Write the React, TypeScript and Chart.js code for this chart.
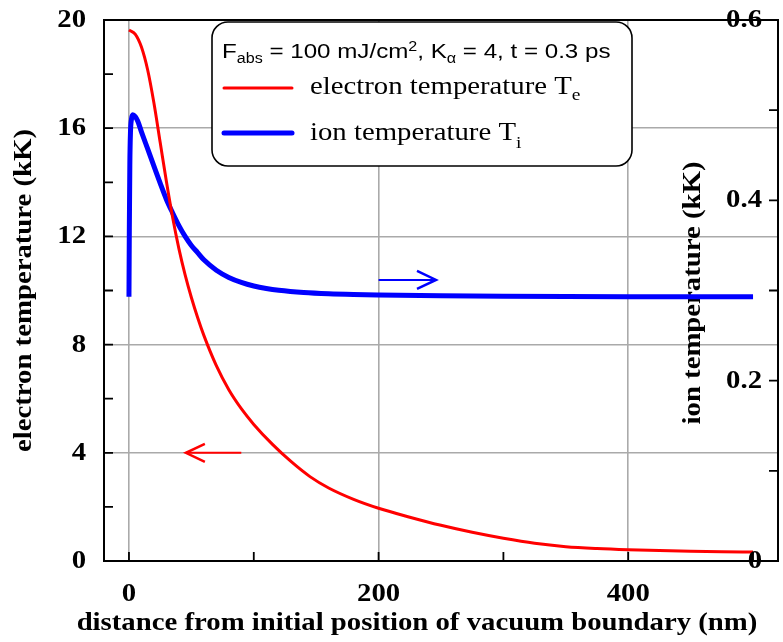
import React, { useEffect, useRef } from 'react';
import { Chart, registerables } from 'chart.js';

Chart.register(...registerables);

// ---- data ----
const distanceElectron = [0, 5, 10, 15, 20, 25, 30, 35, 40, 45, 50, 55, 60, 70, 80, 90, 100, 115, 130, 145, 160, 180, 200, 225, 250, 275, 300, 325, 350, 375, 400, 425, 450, 475, 500];
const electronTemp = [19.63, 19.48, 19.0, 18.15, 16.93, 15.48, 14.03, 12.7, 11.55, 10.58, 9.74, 9.0, 8.34, 7.22, 6.33, 5.63, 5.05, 4.31, 3.67, 3.12, 2.7, 2.28, 1.95, 1.62, 1.32, 1.06, 0.84, 0.655, 0.53, 0.46, 0.415, 0.385, 0.363, 0.345, 0.33];

const distanceIon = [0, 0.3, 0.7, 1.2, 2, 3, 5, 7, 10, 15, 20, 25, 30, 35, 40, 45, 50, 55, 60, 70, 80, 90, 100, 110, 120, 140, 160, 180, 200, 250, 300, 400, 500];
const ionTemp = [0.293, 0.37, 0.44, 0.475, 0.49, 0.495, 0.493, 0.488, 0.476, 0.457, 0.438, 0.419, 0.401, 0.386, 0.372, 0.36, 0.35, 0.342, 0.334, 0.3225, 0.3145, 0.309, 0.305, 0.3022, 0.3002, 0.2977, 0.2963, 0.2955, 0.295, 0.2941, 0.2936, 0.2931, 0.293];

const xGridTicks = [0, 200, 400];
const xTickMarks = [0, 100, 200, 300, 400, 500];
const xTickLabels = ['0', '200', '400'];
const leftGridTicks = [4, 8, 12, 16];
const leftTickMarks = [0, 2, 4, 6, 8, 10, 12, 14, 16, 18, 20];
const leftTickLabels = ['0', '4', '8', '12', '16', '20'];
const rightTickMarks = [0, 0.1, 0.2, 0.3, 0.4, 0.5, 0.6];
const rightTickLabels = ['0', '0.2', '0.4', '0.6'];

// arrows: [x start, x end (tip), y value]
const electronArrow = [90, 45.6, 4.0];
const ionArrow = [200, 246, 0.3117];

const SX = 1.15;
const AXIS_FONT = 'bold 25px "Liberation Serif"';
const SANS = '"Liberation Sans", Arial, sans-serif';
const SERIF = '"Liberation Serif", "Times New Roman", serif';

function sText(ctx: CanvasRenderingContext2D, text: string, x: number, y: number, align: CanvasTextAlign, baseline: CanvasTextBaseline, font: string, rotate = 0) {
  ctx.save();
  ctx.translate(x, y);
  if (rotate) ctx.rotate(rotate);
  ctx.scale(SX, 1);
  ctx.font = font;
  ctx.textAlign = align;
  ctx.textBaseline = baseline;
  ctx.fillStyle = '#000';
  ctx.fillText(text, 0, 0);
  ctx.restore();
}

type Seg = { t: string; font: string; dy: number };
function richText(ctx: CanvasRenderingContext2D, segs: Seg[], x: number, y: number) {
  ctx.save();
  ctx.translate(x, y);
  ctx.scale(SX, 1);
  ctx.textAlign = 'left';
  ctx.textBaseline = 'alphabetic';
  ctx.fillStyle = '#000';
  let cx = 0;
  for (const s of segs) {
    ctx.font = s.font;
    ctx.fillText(s.t, cx, s.dy);
    cx += ctx.measureText(s.t).width;
  }
  ctx.restore();
}

function arrow(ctx: CanvasRenderingContext2D, x0: number, x1: number, y: number, color: string) {
  const dir = x1 > x0 ? 1 : -1;
  ctx.save();
  ctx.strokeStyle = color;
  ctx.lineWidth = 2;
  ctx.lineCap = 'butt';
  ctx.beginPath();
  ctx.moveTo(x0, y);
  ctx.lineTo(x1, y);
  ctx.stroke();
  ctx.beginPath();
  ctx.moveTo(x1 - dir * 19, y - 9);
  ctx.lineTo(x1, y);
  ctx.lineTo(x1 - dir * 19, y + 9);
  ctx.lineWidth = 2.5;
  ctx.stroke();
  ctx.restore();
}

const overlay = {
  id: 'overlay',
  beforeDatasetsDraw(chart: any) {
    const ctx: CanvasRenderingContext2D = chart.ctx;
    const { top, bottom } = chart.chartArea;
    const x = chart.scales.x;
    const y = chart.scales.y;
    leftTickLabels.forEach((l) => {
      sText(ctx, l, 86, y.getPixelForValue(Number(l)) + 7, 'right', 'alphabetic', AXIS_FONT);
    });
    xTickLabels.forEach((l) => {
      sText(ctx, l, x.getPixelForValue(Number(l)), 601, 'center', 'alphabetic', AXIS_FONT);
    });
    sText(ctx, 'electron temperature (kK)', 25, (top + bottom) / 2, 'center', 'middle', AXIS_FONT, -Math.PI / 2);
    sText(ctx, 'ion temperature (kK)', 694, 293, 'center', 'middle', AXIS_FONT, -Math.PI / 2);
    sText(ctx, 'distance from initial position of vacuum boundary (nm)', 417, 630, 'center', 'alphabetic', AXIS_FONT);
  },
  afterDatasetsDraw(chart: any) {
    const ctx: CanvasRenderingContext2D = chart.ctx;
    const { left, right, top, bottom } = chart.chartArea;
    const x = chart.scales.x;
    const y = chart.scales.y;
    const y1 = chart.scales.y1;

    ctx.save();
    ctx.strokeStyle = '#000';
    ctx.lineWidth = 2;
    ctx.strokeRect(left, top, right - left, bottom - top);
    ctx.lineWidth = 1.8;
    ctx.beginPath();
    xTickMarks.forEach((v) => {
      const px = x.getPixelForValue(v);
      ctx.moveTo(px, bottom);
      ctx.lineTo(px, bottom - 9);
    });
    leftTickMarks.forEach((v) => {
      const py = y.getPixelForValue(v);
      ctx.moveTo(left, py);
      ctx.lineTo(left + 9, py);
    });
    rightTickMarks.forEach((v) => {
      const py = y1.getPixelForValue(v);
      ctx.moveTo(right, py);
      ctx.lineTo(right - 9, py);
    });
    ctx.stroke();
    ctx.restore();

    rightTickLabels.forEach((l) => {
      sText(ctx, l, 762, y1.getPixelForValue(Number(l)) + 7, 'right', 'alphabetic', AXIS_FONT);
    });

    arrow(ctx, x.getPixelForValue(electronArrow[0]), x.getPixelForValue(electronArrow[1]), y.getPixelForValue(electronArrow[2]), '#ff0000');
    arrow(ctx, x.getPixelForValue(ionArrow[0]), x.getPixelForValue(ionArrow[1]), y1.getPixelForValue(ionArrow[2]), '#0000ff');

    const bx = 212, by = 22, bw = 420, bh = 144, r = 16;
    ctx.save();
    ctx.beginPath();
    ctx.moveTo(bx + r, by);
    ctx.lineTo(bx + bw - r, by);
    ctx.arcTo(bx + bw, by, bx + bw, by + r, r);
    ctx.lineTo(bx + bw, by + bh - r);
    ctx.arcTo(bx + bw, by + bh, bx + bw - r, by + bh, r);
    ctx.lineTo(bx + r, by + bh);
    ctx.arcTo(bx, by + bh, bx, by + bh - r, r);
    ctx.lineTo(bx, by + r);
    ctx.arcTo(bx, by, bx + r, by, r);
    ctx.closePath();
    ctx.fillStyle = '#fff';
    ctx.fill();
    ctx.strokeStyle = '#000';
    ctx.lineWidth = 1.6;
    ctx.stroke();
    ctx.restore();

    const big = `21px ${SANS}`;
    const small = `14px ${SANS}`;
    richText(ctx, [
      { t: 'F', font: big, dy: 0 },
      { t: 'abs', font: small, dy: 5 },
      { t: ' = 100 mJ/cm', font: big, dy: 0 },
      { t: '2', font: small, dy: -7 },
      { t: ', K', font: big, dy: 0 },
      { t: 'α', font: small, dy: 5 },
      { t: ' = 4, t = 0.3 ps', font: big, dy: 0 },
    ], 222, 58);

    ctx.save();
    ctx.lineCap = 'round';
    ctx.strokeStyle = '#ff0000';
    ctx.lineWidth = 3;
    ctx.beginPath();
    ctx.moveTo(224, 88);
    ctx.lineTo(292, 88);
    ctx.stroke();
    ctx.strokeStyle = '#0000ff';
    ctx.lineWidth = 5;
    ctx.beginPath();
    ctx.moveTo(224, 133);
    ctx.lineTo(292, 133);
    ctx.stroke();
    ctx.restore();

    const lf = `25px ${SERIF}`;
    const lsub = `17px ${SERIF}`;
    richText(ctx, [
      { t: 'electron temperature T', font: lf, dy: 0 },
      { t: 'e', font: lsub, dy: 6 },
    ], 310, 94);
    richText(ctx, [
      { t: 'ion temperature T', font: lf, dy: 0 },
      { t: 'i', font: lsub, dy: 8 },
    ], 310, 140);
  },
};

export default function App() {
  const ref = useRef<HTMLCanvasElement>(null);
  useEffect(() => {
    if (!ref.current) return;
    const chart = new Chart(ref.current, {
      type: 'line',
      data: {
        datasets: [
          {
            label: 'electron temperature',
            data: distanceElectron.map((d, i) => ({ x: d, y: electronTemp[i] })),
            borderColor: '#ff0000',
            borderWidth: 3,
            pointRadius: 0,
            cubicInterpolationMode: 'monotone',
            yAxisID: 'y',
            fill: false,
          },
          {
            label: 'ion temperature',
            data: distanceIon.map((d, i) => ({ x: d, y: ionTemp[i] })),
            borderColor: '#0000ff',
            borderWidth: 5,
            pointRadius: 0,
            cubicInterpolationMode: 'monotone',
            yAxisID: 'y1',
            fill: false,
          },
        ],
      },
      options: {
        animation: false,
        responsive: false,
        devicePixelRatio: 1,
        events: [],
        layout: { padding: { left: 0, right: 5, top: 20, bottom: 0 } },
        plugins: { legend: { display: false }, tooltip: { enabled: false } },
        scales: {
          x: {
            type: 'linear',
            min: -20,
            max: 520,
            ticks: { display: false },
            grid: { color: '#aaaaaa', lineWidth: 1.6, drawTicks: false },
            border: { display: false },
            afterBuildTicks: (s: any) => { s.ticks = xGridTicks.map((v) => ({ value: v })); },
            afterFit: (s: any) => { s.height = 81; },
          },
          y: {
            type: 'linear',
            position: 'left',
            min: 0,
            max: 20,
            ticks: { display: false },
            grid: { color: '#aaaaaa', lineWidth: 1.6, drawTicks: false },
            border: { display: false },
            afterBuildTicks: (s: any) => { s.ticks = leftGridTicks.map((v) => ({ value: v })); },
            afterFit: (s: any) => { s.width = 104; },
          },
          y1: {
            type: 'linear',
            position: 'right',
            min: 0,
            max: 0.6,
            display: false,
            grid: { display: false },
          },
        },
      },
      plugins: [overlay],
    } as any);
    return () => chart.destroy();
  }, []);
  return (
    <div style={{ position: 'fixed', left: 0, top: 0, width: 783, height: 642, background: '#fff' }}>
      <canvas ref={ref} width={783} height={642} style={{ display: 'block' }} />
    </div>
  );
}
